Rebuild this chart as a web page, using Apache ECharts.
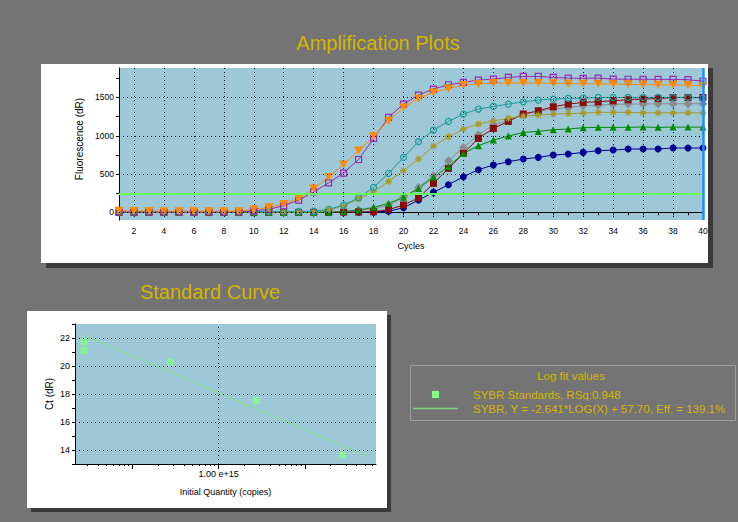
<!DOCTYPE html>
<html>
<head>
<meta charset="utf-8">
<script src="https://cdn.jsdelivr.net/npm/echarts@6/dist/echarts.min.js"></script>
<style>
html, body { margin: 0; padding: 0; background: #747474; }
#main { width: 738px; height: 522px; }
</style>
</head>
<body>
<div id="main"></div>
<script>
// amplification plot data (cycle 1..40)
var cycles = [1,2,3,4,5,6,7,8,9,10,11,12,13,14,15,16,17,18,19,20,21,22,23,24,25,26,27,28,29,30,31,32,33,34,35,36,37,38,39,40];
var purpleSq = [5,5,5,5,5,5,5,5,5,20,40,86,160,267,384,513,690,965,1240,1414,1531,1610,1666,1697,1727,1740,1762,1775,1775,1762,1753,1750,1753,1740,1738,1738,1736,1736,1732,1712];
var orangeTri = [20,18,18,15,15,15,15,15,15,40,65,110,180,310,460,625,806,995,1196,1370,1488,1566,1618,1662,1675,1688,1690,1690,1690,1685,1680,1680,1678,1675,1672,1668,1665,1665,1662,1650];
var tealCirc = [10,10,10,10,10,10,10,10,10,10,10,10,10,15,40,95,190,326,509,718,922,1074,1188,1283,1349,1383,1414,1444,1466,1479,1488,1492,1500,1500,1500,1500,1502,1500,1500,1492];
var oliveStar = [5,5,5,5,5,5,5,5,5,5,5,5,5,5,30,85,175,270,405,544,696,866,987,1088,1153,1196,1227,1257,1270,1283,1290,1296,1305,1305,1305,1300,1300,1300,1300,1300];
var redSq = [0,0,0,0,0,0,0,0,0,0,0,0,0,0,0,3,5,9,35,96,187,378,574,770,966,1096,1188,1283,1327,1379,1414,1436,1444,1457,1470,1480,1485,1500,1500,1500];
var grayDia = [0,0,0,0,0,0,0,0,0,0,0,0,0,0,0,8,30,45,96,196,326,479,674,848,1014,1140,1205,1283,1320,1349,1370,1392,1400,1410,1414,1414,1418,1418,1418,1418];
var greenTri = [0,0,0,0,0,0,0,0,0,0,0,0,0,0,0,10,30,65,117,196,310,460,596,770,870,944,996,1044,1057,1079,1088,1105,1110,1110,1110,1115,1110,1113,1113,1113];
var navyCirc = [0,0,0,0,0,0,0,0,0,0,0,0,0,0,0,0,0,3,15,60,160,261,361,465,557,618,661,696,718,748,761,783,805,813,827,827,827,840,840,840];
var threshold = 240;
var ampLabels = [0,500,1000,1500];
var ampTicks = [0,250,500,750,1000,1250,1500,1750];

// standard curve data
var stdQty = [2.75e13, 2.75e13, 2.75e14, 2.75e15, 2.75e16];
var stdCt = [21.72, 21.1, 20.28, 17.52, 13.65];
var fitQty = [2.75e13, 5.3e16];
var fitCt = [22.2, 13.55];
var stdGrid = [14,16,18,20,22];
var stdMinorTicks = [];
[13,14,15,16].forEach(function (d) {
  for (var k = 1; k <= 9; k++) stdMinorTicks.push(k * Math.pow(10, d));
});
var stdMajorTicks = [1e14, 1e15, 1e16];

var FONT = '"Liberation Sans", Arial, sans-serif';
var GOLD = '#d4b400';

function curve(name, data, color, symbol, size, hollow, extra) {
  var s = {
    name: name, type: 'line', xAxisIndex: 0, yAxisIndex: 0,
    data: data, symbol: symbol, symbolSize: size, showSymbol: true, showAllSymbol: true,
    lineStyle: { color: color, width: 1 },
    itemStyle: hollow
      ? { color: 'rgba(0,0,0,0)', borderColor: color, borderWidth: 1.2 }
      : { color: color, borderWidth: 0 },
    emphasis: { disabled: true }, z: 3
  };
  if (extra) for (var k in extra) s[k] = extra[k];
  return s;
}

var chart = echarts.init(document.getElementById('main'), null, { renderer: 'svg' });
var option = {
  animation: false,
  backgroundColor: '#747474',
  textStyle: { fontFamily: FONT },
  graphic: [
    { type: 'rect', z: -20, shape: { x: 46, y: 68, width: 667, height: 200 }, style: { fill: '#3a3a3a' } },
    { type: 'rect', z: -19, shape: { x: 41, y: 64, width: 667, height: 199 }, style: { fill: '#ffffff' } },
    { type: 'rect', z: -20, shape: { x: 31, y: 315, width: 360, height: 197 }, style: { fill: '#3a3a3a' } },
    { type: 'rect', z: -19, shape: { x: 27, y: 311, width: 360, height: 197 }, style: { fill: '#ffffff' } },
    { type: 'text', x: 378, y: 43, style: { text: 'Amplification Plots', fill: GOLD, font: '20px ' + FONT, align: 'center', verticalAlign: 'middle' } },
    { type: 'text', x: 210, y: 292, style: { text: 'Standard Curve', fill: GOLD, font: '20px ' + FONT, align: 'center', verticalAlign: 'middle' } },
    { type: 'rect', z: 5, shape: { x: 410.5, y: 365.5, width: 325, height: 55 }, style: { fill: 'none', stroke: '#9c9c9c', lineWidth: 1 } },
    { type: 'text', z: 5, x: 571, y: 376, style: { text: 'Log fit values', fill: GOLD, font: '11.5px ' + FONT, align: 'center', verticalAlign: 'middle' } },
    { type: 'rect', z: 5, shape: { x: 432, y: 391, width: 7, height: 7 }, style: { fill: '#80ff80' } },
    { type: 'line', z: 5, shape: { x1: 413, y1: 408.5, x2: 458, y2: 408.5 }, style: { stroke: '#7ad87a', lineWidth: 1.5 } },
    { type: 'text', z: 5, x: 473, y: 395, style: { text: 'SYBR Standards, RSq:0.948', fill: GOLD, font: '11.5px ' + FONT, align: 'left', verticalAlign: 'middle' } },
    { type: 'text', z: 5, x: 473, y: 409, style: { text: 'SYBR, Y = -2.641*LOG(X) + 57.70, Eff. = 139.1%', fill: GOLD, font: '11.5px ' + FONT, align: 'left', verticalAlign: 'middle' } }
  ],
  grid: [
    { left: 119, top: 68, width: 584, height: 152, show: true, backgroundColor: '#9cc8d8', borderWidth: 0 },
    { left: 75, top: 324, width: 301, height: 140, show: true, backgroundColor: '#9cc8d8', borderWidth: 0 }
  ],
  xAxis: [
    {
      type: 'category', gridIndex: 0, data: cycles, boundaryGap: false,
      axisLine: { lineStyle: { color: '#000', width: 1 } },
      axisTick: { interval: 0, length: 3, lineStyle: { color: '#000' } },
      axisLabel: { interval: function (i) { return i % 2 === 1; }, fontSize: 8.5, color: '#000', margin: 6 },
      splitLine: { show: true, interval: function (i) { return i % 2 === 1; }, lineStyle: { color: '#000', type: [1, 3], width: 1 } },
      name: 'Cycles', nameLocation: 'middle', nameGap: 21,
      nameTextStyle: { fontSize: 9, color: '#000' }
    },
    {
      type: 'log', gridIndex: 1, logBase: 10, min: 2.16e13, max: 6.7e16,
      axisLine: { lineStyle: { color: '#000', width: 1 } },
      axisTick: { customValues: stdMinorTicks, length: 2, lineStyle: { color: '#000' } },
      axisLabel: { customValues: [1e15], formatter: function () { return '1.00 e+15'; }, fontSize: 9, color: '#000', margin: 5 },
      splitLine: { show: false },
      name: 'Initial Quantity (copies)', nameLocation: 'middle', nameGap: 23,
      nameTextStyle: { fontSize: 9, color: '#000' }
    },
    {
      type: 'log', gridIndex: 1, logBase: 10, min: 2.16e13, max: 6.7e16, position: 'bottom',
      axisLine: { show: false },
      axisTick: { customValues: stdMajorTicks, length: 5, lineStyle: { color: '#000' } },
      axisLabel: { show: false },
      splitLine: { show: false }
    }
  ],
  yAxis: [
    {
      type: 'value', gridIndex: 0, min: -100, max: 1885,
      axisLine: { show: true, lineStyle: { color: '#000', width: 1 } },
      axisTick: { show: true, customValues: ampTicks, length: 3, lineStyle: { color: '#000' } },
      axisLabel: { customValues: ampLabels, formatter: function (v) { return String(v); }, fontSize: 8.5, color: '#000', margin: 5 },
      splitLine: { show: false },
      name: 'Fluorescence (dR)', nameLocation: 'middle', nameGap: 31,
      nameTextStyle: { fontSize: 10, color: '#000', padding: [0, 0, 0, 10] }
    },
    {
      type: 'value', gridIndex: 1, min: 13, max: 23, interval: 1,
      axisLine: { show: true, lineStyle: { color: '#000', width: 1 } },
      axisTick: { show: true, length: 3, lineStyle: { color: '#000' } },
      axisLabel: { formatter: function (v) { return v % 2 === 0 ? String(v) : ''; }, fontSize: 9, color: '#000', margin: 5 },
      splitLine: { show: false },
      name: 'Ct (dR)', nameLocation: 'middle', nameGap: 21,
      nameTextStyle: { fontSize: 10, color: '#000' }
    }
  ],
  series: [
    // grid + threshold lines of the amplification plot
    {
      type: 'line', xAxisIndex: 0, yAxisIndex: 0, data: [], z: 1, silent: true,
      markLine: {
        silent: true, symbol: 'none', label: { show: false }, animation: false,
        lineStyle: { color: '#000', type: [1, 3], width: 1 },
        data: ampLabels.map(function (v) { return { yAxis: v }; }).concat([
          { yAxis: threshold, lineStyle: { color: '#66ff55', type: 'solid', width: 2 } },
          { xAxis: '40', lineStyle: { color: '#1e8fff', type: 'solid', width: 2.5 } }
        ])
      }
    },
    curve('navy', navyCirc, '#000090', 'circle', 7, false),
    curve('gray', grayDia, '#8c8c8c', 'diamond', 9, false),
    curve('red', redSq, '#8b0a0a', 'rect', 7, false),
    curve('green', greenTri, '#008a00', 'triangle', 7, false),
    curve('olive', oliveStar, '#a89a2a', 'path://M5,0L5,10M0,5L10,5M1.5,1.5L8.5,8.5M8.5,1.5L1.5,8.5', 7, true),
    curve('teal', tealCirc, '#1b9a9a', 'circle', 6, true),
    curve('purple', purpleSq, '#9a2aa8', 'rect', 6, true),
    curve('orange', orangeTri, '#ff8a00', 'triangle', [9, 8], false, { symbolRotate: 180 }),
    // standard curve grid lines
    {
      type: 'line', xAxisIndex: 1, yAxisIndex: 1, data: [], z: 1, silent: true,
      markLine: {
        silent: true, symbol: 'none', label: { show: false }, animation: false,
        lineStyle: { color: '#000', type: [1, 3], width: 1 },
        data: stdGrid.map(function (v) { return { yAxis: v }; }).concat([{ xAxis: 1e15 }])
      }
    },
    {
      name: 'fit', type: 'line', xAxisIndex: 1, yAxisIndex: 1, z: 3,
      data: fitQty.map(function (q, i) { return [q, fitCt[i]]; }),
      symbol: 'none', lineStyle: { color: '#7fe27f', width: 1 }, emphasis: { disabled: true }
    },
    {
      name: 'SYBR Standards', type: 'scatter', xAxisIndex: 1, yAxisIndex: 1, z: 4,
      data: stdQty.map(function (q, i) { return [q, stdCt[i]]; }),
      symbol: 'rect', symbolSize: [7, 7], itemStyle: { color: '#80ff80' }, emphasis: { disabled: true }
    }
  ]
};
chart.setOption(option);
</script>
</body>
</html>
